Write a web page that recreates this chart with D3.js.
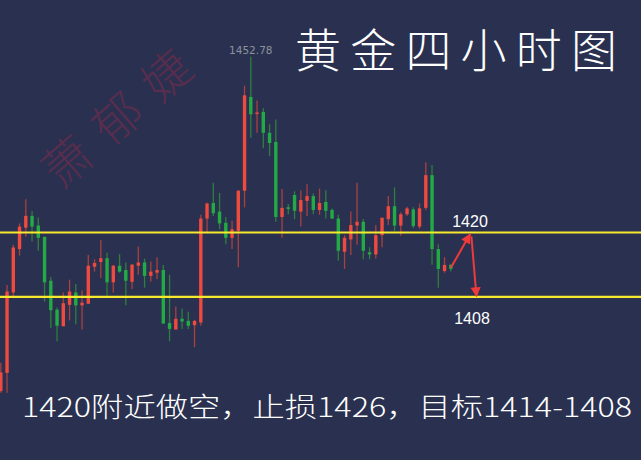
<!DOCTYPE html>
<html><head><meta charset="utf-8">
<script src="https://cdn.jsdelivr.net/npm/d3@7"></script>
<style>html,body{margin:0;padding:0;background:#2a3150;}</style>
</head><body>
<svg id="chart" width="641" height="460"></svg>
<script>
// OHLC per 4h candle (red = up, green = down)
const opens  = [1390.4,1393.8,1408.8,1416.9,1420.9,1423.1,1421.3,1419.2,1411.0,1405.6,1402.5,1406.5,1408.8,1406.4,1406.7,1413.6,1414.5,1415.2,1410.7,1413.8,1413.0,1410.8,1413.8,1414.4,1411.9,1412.5,1413.0,1403.1,1401.9,1403.9,1403.5,1402.7,1403.2,1422.6,1425.5,1423.9,1421.8,1419.0,1420.3,1427.8,1445.3,1442.1,1442.5,1438.6,1436.9,1422.9,1424.7,1427.0,1423.9,1425.9,1426.8,1424.2,1425.7,1424.2,1422.6,1416.4,1418.7,1421.3,1422.0,1416.3,1415.9,1419.5,1422.5,1424.9,1421.3,1423.4,1424.3,1421.1,1424.6,1430.7,1416.9,1412.8,1414.0];
const highs  = [1395.7,1410.2,1417.7,1421.7,1426.2,1424.0,1422.8,1419.2,1411.7,1406.0,1408.8,1411.2,1410.4,1409.2,1415.8,1415.0,1418.6,1416.2,1413.95,1416.0,1414.4,1414.1,1417.4,1415.1,1414.6,1415.4,1413.95,1412.1,1406.2,1405.8,1405.2,1403.7,1423.3,1425.6,1429.3,1427.4,1422.9,1422.2,1427.9,1447.4,1452.78,1444.65,1443.2,1440.2,1441.1,1428.1,1425.3,1427.7,1427.9,1429.0,1427.3,1428.2,1427.9,1424.5,1423.3,1419.5,1423.9,1429.3,1422.5,1417.25,1421.4,1422.8,1426.8,1428.4,1423.8,1424.8,1424.7,1425.4,1433.1,1432.6,1417.8,1415.4,1414.0];
const lows   = [1390.1,1390.1,1407.8,1415.7,1419.2,1418.3,1416.6,1407.1,1402.2,1399.7,1402.5,1403.6,1402.9,1401.9,1406.7,1412.7,1411.5,1408.2,1408.8,1412.5,1406.4,1409.4,1412.1,1409.7,1410.8,1411.3,1403.0,1399.7,1401.9,1402.0,1402.0,1398.6,1402.6,1419.85,1423.1,1420.6,1417.8,1416.9,1413.5,1424.7,1437.7,1438.6,1435.7,1434.3,1422.0,1419.0,1423.4,1422.5,1421.1,1423.1,1423.4,1423.3,1422.6,1422.5,1414.75,1413.2,1415.8,1417.7,1415.0,1415.0,1415.1,1417.25,1421.4,1420.3,1419.4,1423.1,1420.8,1420.7,1424.2,1414.0,1409.7,1412.5,1412.7];
const closes = [1393.9,1409.0,1417.2,1421.1,1423.1,1421.1,1419.0,1410.7,1405.5,1402.6,1406.8,1409.0,1406.4,1406.9,1413.8,1414.3,1415.2,1410.7,1413.8,1412.7,1411.0,1414.0,1414.4,1411.9,1412.7,1413.0,1403.0,1402.0,1403.9,1403.4,1402.6,1403.5,1422.6,1425.4,1423.6,1421.7,1419.0,1420.6,1427.8,1445.6,1442.05,1442.4,1438.6,1436.7,1422.9,1424.6,1424.4,1424.05,1426.05,1426.8,1424.2,1425.5,1424.05,1422.6,1416.6,1419.0,1421.4,1422.0,1416.6,1415.9,1419.5,1422.75,1424.9,1421.3,1423.4,1424.5,1421.2,1424.5,1430.7,1416.9,1413.2,1413.95,1413.2];
const levels = [1420, 1408];
const highLabel = "1452.78";
const title = "黄金四小时图";
const watermark = "萧郁婕";
const note = "1420附近做空，止损1426，目标1414-1408";
// arrow path: [candle index, price]
const arrowUp   = [[72.0, 1413.4], [75.1, 1419.7]];
const arrowDown = [[75.3, 1419.3], [76.1, 1408.1]];

const svg = d3.select("#chart");
const W = 641, H = 460;
svg.append("rect").attr("width", W).attr("height", H).attr("fill", "#2a3150");

const x = d3.scaleLinear().domain([0, 72]).range([0.8, 450.8]);
const y = d3.scaleLinear().domain([1408, 1420]).range([296.8, 232.5]);

// watermark
svg.append("text")
  .attr("transform", "translate(122,110) rotate(-41)")
  .attr("text-anchor", "middle").attr("dominant-baseline", "central")
  .attr("font-family", "'Noto Sans CJK SC'").attr("font-size", 48).attr("font-weight", 300)
  .attr("letter-spacing", 18)
  .attr("fill", "#5e2e4c").attr("fill-opacity", 0.9)
  .text(watermark);

const up = "#ee4a3e", dn = "#23aa45";
const upW = "#a8413f", dnW = "#2e7f3c";
const idx = d3.range(opens.length);
const g = svg.append("g");
g.selectAll("line.wick").data(idx).join("line")
  .attr("x1", i => x(i)).attr("x2", i => x(i))
  .attr("y1", i => y(highs[i])).attr("y2", i => y(lows[i]))
  .attr("stroke", i => closes[i] >= opens[i] ? upW : dnW)
  .attr("stroke-width", 1.3);
g.selectAll("rect.body").data(idx).join("rect")
  .attr("x", i => x(i) - 1.7).attr("width", 3.4)
  .attr("y", i => y(Math.max(opens[i], closes[i])))
  .attr("height", i => Math.max(1.2, Math.abs(y(opens[i]) - y(closes[i]))))
  .attr("fill", i => closes[i] >= opens[i] ? up : dn);

// level lines
svg.selectAll("line.level").data(levels).join("line")
  .attr("x1", 0).attr("x2", W)
  .attr("y1", d => y(d)).attr("y2", d => y(d))
  .attr("stroke", "#f7ea2e").attr("stroke-width", 2.2);

// high label
const hi = d3.maxIndex(highs);
svg.append("text").attr("x", x(hi)).attr("y", y(highs[hi]) - 3)
  .attr("text-anchor", "middle").attr("font-family", "'DejaVu Sans', sans-serif")
  .attr("font-size", 10.5).attr("fill", "#8d919e").text(highLabel);

// level labels
svg.append("text").attr("x", 470).attr("y", y(levels[0]) - 6)
  .attr("text-anchor", "middle").attr("font-family", "'Liberation Sans', Arial, sans-serif")
  .attr("font-size", 16).attr("fill", "#ffffff").text(levels[0]);
svg.append("text").attr("x", 472).attr("y", y(levels[1]) + 27)
  .attr("text-anchor", "middle").attr("font-family", "'Liberation Sans', Arial, sans-serif")
  .attr("font-size", 16).attr("fill", "#ffffff").text(levels[1]);

// arrows
const defs = svg.append("defs");
defs.append("marker").attr("id", "ah").attr("viewBox", "0 0 10 10")
  .attr("refX", 9).attr("refY", 5).attr("markerWidth", 6).attr("markerHeight", 5)
  .attr("markerUnits", "strokeWidth").attr("orient", "auto")
  .append("path").attr("d", "M0,0 L10,5 L0,10 z").attr("fill", "#f03a3a");
[arrowUp, arrowDown].forEach(a => {
  svg.append("line")
    .attr("x1", x(a[0][0])).attr("y1", y(a[0][1]))
    .attr("x2", x(a[1][0])).attr("y2", y(a[1][1]))
    .attr("stroke", "#f03a3a").attr("stroke-width", 2)
    .attr("marker-end", "url(#ah)");
});

// title
svg.append("text").attr("x", 617).attr("y", 67)
  .attr("text-anchor", "end").attr("font-family", "'Noto Sans CJK SC'")
  .attr("font-size", 46).attr("font-weight", 300).attr("fill", "#ffffff")
  .attr("textLength", 322).attr("lengthAdjust", "spacing")
  .text(title);

// bottom note
svg.append("text").attr("x", 22).attr("y", 417)
  .attr("font-family", "'Noto Sans CJK SC'")
  .attr("font-size", 27).attr("font-weight", 300).attr("fill", "#ffffff")
  .attr("textLength", 610).attr("lengthAdjust", "spacingAndGlyphs")
  .text(note);
</script>
</body></html>
